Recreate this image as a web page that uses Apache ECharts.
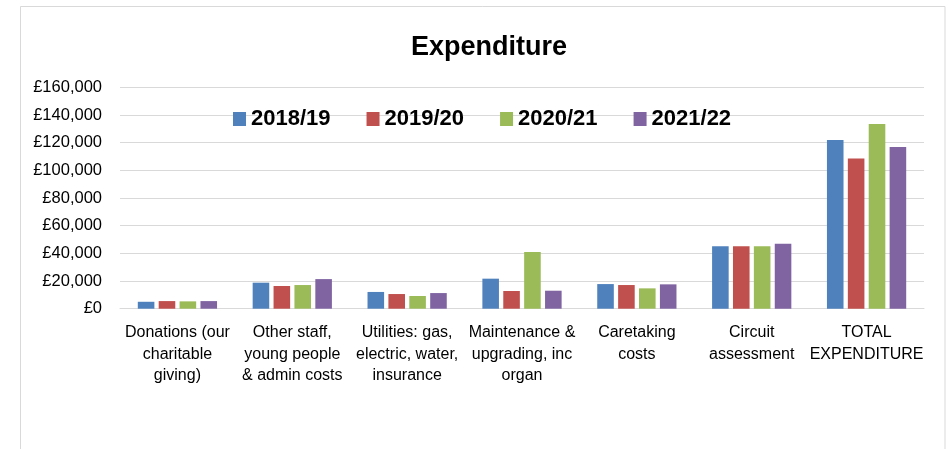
<!DOCTYPE html>
<html>
<head>
<meta charset="utf-8">
<title>Expenditure</title>
<script src="https://cdn.jsdelivr.net/npm/echarts@6/dist/echarts.min.js"></script>
<style>
  html, body { margin: 0; padding: 0; background: #fff; }
  #chart { width: 951px; height: 449px; }
</style>
</head>
<body>
<div id="chart"></div>
<script>
const categories = [
  'Donations (our\ncharitable\ngiving)',
  'Other staff,\nyoung people\n& admin costs',
  'Utilities: gas,\nelectric, water,\ninsurance',
  'Maintenance &\nupgrading, inc\norgan',
  'Caretaking\ncosts',
  'Circuit\nassessment',
  'TOTAL\nEXPENDITURE'
]
const years = ['2018/19', '2019/20', '2020/21', '2021/22']
const y2018 = [5000, 18800, 12100, 21700, 17800, 45100, 121900]
const y2019 = [5500, 16400, 10600, 12800, 17100, 45100, 108600]
const y2020 = [5300, 17100, 9200, 40900, 14700, 45100, 133400]
const y2021 = [5500, 21400, 11300, 13000, 17600, 46900, 116800]

const colors = ['#4F81BD', '#C0504D', '#9BBB59', '#8064A2']
const font = '"Liberation Sans", Arial, sans-serif'

const chart = echarts.init(document.getElementById('chart'))

function money(v) {
  return '£' + String(v).replace(/\B(?=(\d{3})+(?!\d))/g, ',')
}

const seriesData = [y2018, y2019, y2020, y2021]

const option = {
  backgroundColor: '#fff',
  animation: false,
  color: colors,
  textStyle: { fontFamily: font },
  title: {
    text: 'Expenditure',
    left: 484,
    textAlign: 'center',
    top: 29,
    textStyle: { fontFamily: font, fontSize: 27, fontWeight: 'bold', color: '#000' }
  },
  legend: {
    data: years,
    left: 228,
    top: 103,
    icon: 'rect',
    itemWidth: 13,
    itemHeight: 14,
    itemGap: 36,
    textStyle: { fontFamily: font, fontSize: 22, fontWeight: 'bold', color: '#000' }
  },
  grid: {
    left: 120,
    right: 27,
    top: 87.3,
    bottom: 140.3
  },
  xAxis: {
    type: 'category',
    data: categories,
    axisLine: { show: true, lineStyle: { color: '#d9d9d9', width: 1 } },
    axisTick: { show: false },
    axisLabel: {
      interval: 0,
      margin: 13,
      fontFamily: font,
      fontSize: 16,
      lineHeight: 21.7,
      color: '#000',
      align: 'center'
    }
  },
  yAxis: {
    type: 'value',
    min: 0,
    max: 160000,
    interval: 20000,
    axisLine: { show: false },
    axisTick: { show: false },
    splitLine: { lineStyle: { color: '#d9d9d9', width: 1 } },
    axisLabel: {
      margin: 18,
      fontFamily: font,
      fontSize: 16.5,
      color: '#000',
      formatter: money
    }
  },
  series: years.map((name, i) => ({
    name,
    type: 'bar',
    data: seriesData[i],
    barGap: '26%',
    barCategoryGap: '31%',
    itemStyle: { color: colors[i] }
  })),
  graphic: [
    {
      type: 'rect',
      shape: { x: 20.5, y: 6.5, width: 924.5, height: 470 },
      style: { fill: 'none', stroke: '#d9d9d9', lineWidth: 1 },
      silent: true
    }
  ]
}

chart.setOption(option)
</script>
</body>
</html>
